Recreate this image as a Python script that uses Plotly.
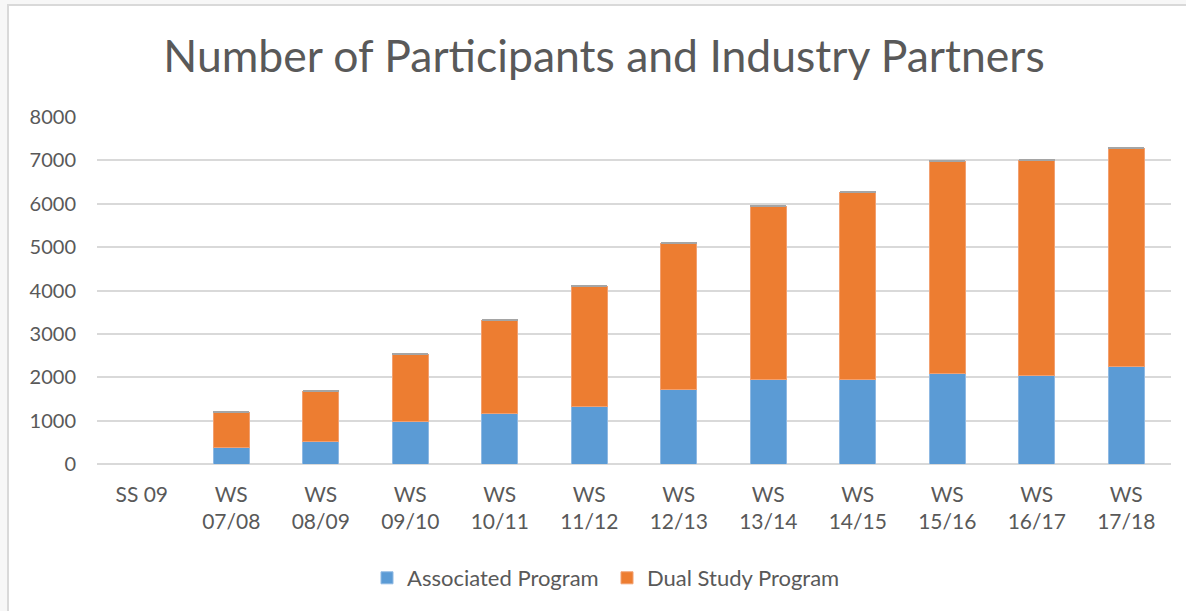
import plotly.graph_objects as go

categories = ["SS 09", "WS<br>07/08", "WS<br>08/09", "WS<br>09/10", "WS<br>10/11", "WS<br>11/12",
              "WS<br>12/13", "WS<br>13/14", "WS<br>14/15", "WS<br>15/16", "WS<br>16/17", "WS<br>17/18"]
associated = [0, 390, 513, 980, 1157, 1334, 1725, 1955, 1955, 2077, 2047, 2245]
dual_study = [0, 806, 1166, 1550, 2155, 2751, 3365, 3986, 4315, 4899, 4959, 5023]
industry_partners = [0, 20, 22, 24, 26, 28, 30, 30, 30, 30, 30, 32]

W, H = 1186, 611
L, R, T, B = 97, 15, 117, 147
pw, ph = W - L - R, H - T - B

fig = go.Figure()
fig.add_trace(go.Bar(name="Associated Program", x=categories, y=associated,
                     marker=dict(color="#5b9bd5", line=dict(color="#8fb9e3", width=1))))
fig.add_trace(go.Bar(name="Dual Study Program", x=categories, y=dual_study,
                     marker=dict(color="#ed7d31", line=dict(color="#f2a070", width=1))))
fig.add_trace(go.Bar(name="Industry Partners", x=categories, y=industry_partners,
                     marker=dict(color="#a5a5a5", line=dict(width=0)), showlegend=False))

font = "Lato, 'Open Sans', sans-serif"
fig.update_layout(
    width=W, height=H,
    barmode="stack", bargap=0.6,
    margin=dict(l=L, r=R, t=T, b=B),
    paper_bgcolor="#f7f7f7", plot_bgcolor="white",
    font=dict(family=font, color="#595959", size=20),
    title=dict(text="Number of Participants and Industry Partners", x=(604 - 0) / W, xanchor="center",
               y=1 - 56 / H, yanchor="middle", yref="container",
               font=dict(size=44.5, color="#595959", family=font)),
    xaxis=dict(showgrid=False, showline=False, ticks="", tickfont=dict(size=21),
               tickangle=0, ticklabelstandoff=16),
    yaxis=dict(range=[0, 8000], dtick=1000, showgrid=True, gridcolor="#d9d9d9", gridwidth=1.5,
               zeroline=True, zerolinecolor="#d9d9d9", zerolinewidth=1.5, showline=False,
               ticks="", tickfont=dict(size=20), ticklabelstandoff=20),
    legend=dict(orientation="h", x=(607 - L) / pw, xanchor="center", yref="container", y=1 - 578 / H,
                yanchor="middle", font=dict(size=22), entrywidth=195, traceorder="normal",
                bgcolor="rgba(0,0,0,0)"),
    shapes=[dict(type="rect", xref="paper", yref="paper", layer="below",
                 x0=(8 - L) / pw, x1=(W + 5 - L) / pw,
                 y0=-(B + 5) / ph, y1=1 + (T - 5) / ph,
                 fillcolor="white", line=dict(color="#d9d9d9", width=2))],
)
fig.write_html("out.html", config={"displayModeBar": False},
               post_script="document.body.style.margin='0';document.body.style.background='#f7f7f7';")
